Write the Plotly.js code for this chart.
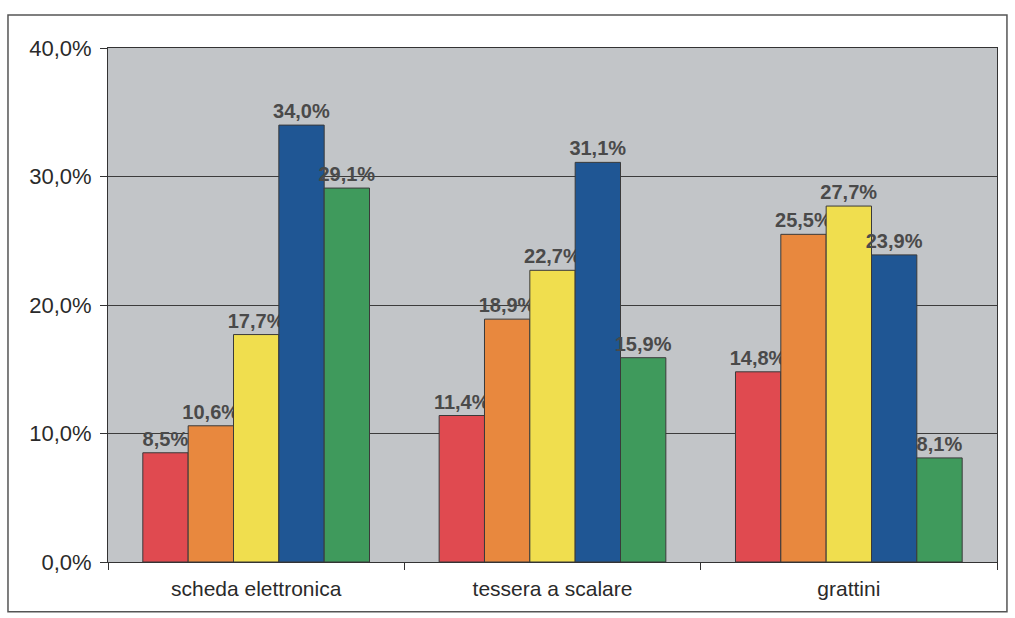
<!DOCTYPE html>
<html>
<head>
<meta charset="utf-8">
<script src="https://cdn.plot.ly/plotly-3.0.1.min.js"></script>
<style>html,body{margin:0;padding:0;background:#fff;}#chart{width:1015px;height:618px;}</style>
</head>
<body>
<div id="chart"></div>
<script>
const categories = ["scheda elettronica", "tessera a scalare", "grattini"];
const seriesRed = [8.5, 11.4, 14.8];
const seriesOrange = [10.6, 18.9, 25.5];
const seriesYellow = [17.7, 22.7, 27.7];
const seriesBlue = [34.0, 31.1, 23.9];
const seriesGreen = [29.1, 15.9, 8.1];
const seriesColors = ["#E04A50", "#E8883E", "#F0DE4E", "#1F5694", "#3F9A5C"];
const allSeries = [seriesRed, seriesOrange, seriesYellow, seriesBlue, seriesGreen];

function fmt(v){ return v.toFixed(1).replace('.', ',') + '%'; }

const traces = allSeries.map((vals, i) => ({
  type: 'bar',
  x: categories,
  y: vals,
  text: vals.map(fmt),
  textposition: 'outside',
  constraintext: 'none',
  cliponaxis: false,
  textfont: {family: 'Liberation Sans, Arial, sans-serif', size: 20, color: '#4a4a4a', weight: 'bold'},
  marker: {color: seriesColors[i], line: {color: '#3a3a3a', width: 1}},
  hoverinfo: 'none'
}));

const layout = {
  width: 1015, height: 618,
  margin: {l: 108, r: 18, t: 48, b: 56},
  paper_bgcolor: '#ffffff',
  plot_bgcolor: '#C2C5C8',
  showlegend: false,
  separators: ',.',
  barmode: 'group',
  bargap: 0.235,
  bargroupgap: 0,
  font: {family: 'Liberation Sans, Arial, sans-serif', color: '#2a2a2a'},
  xaxis: {
    type: 'category',
    tickson: 'boundaries',
    ticks: 'outside', ticklen: 7, tickcolor: '#333',
    showline: true, linecolor: '#333', linewidth: 1, mirror: true,
    showgrid: false,
    ticklabelstandoff: 8,
    tickfont: {size: 21, color: '#2a2a2a'}
  },
  yaxis: {
    range: [0, 40], dtick: 10,
    tickformat: '.1f', ticksuffix: '%',
    ticks: 'outside', ticklen: 7, tickcolor: '#333',
    showline: true, linecolor: '#333', linewidth: 1, mirror: true,
    gridcolor: '#3c3c3c', gridwidth: 1,
    zeroline: false,
    ticklabelstandoff: 4,
    tickfont: {size: 22, color: '#2a2a2a'}
  },
  shapes: [{
    type: 'rect', xref: 'paper', yref: 'paper',
    x0: -0.1125, x1: 1.0112, y0: -0.097, y1: 1.064,
    line: {color: '#555', width: 1.5}, fillcolor: 'rgba(0,0,0,0)', layer: 'below'
  }]
};

Plotly.newPlot('chart', traces, layout, {displayModeBar: false, staticPlot: true});
</script>
</body>
</html>
